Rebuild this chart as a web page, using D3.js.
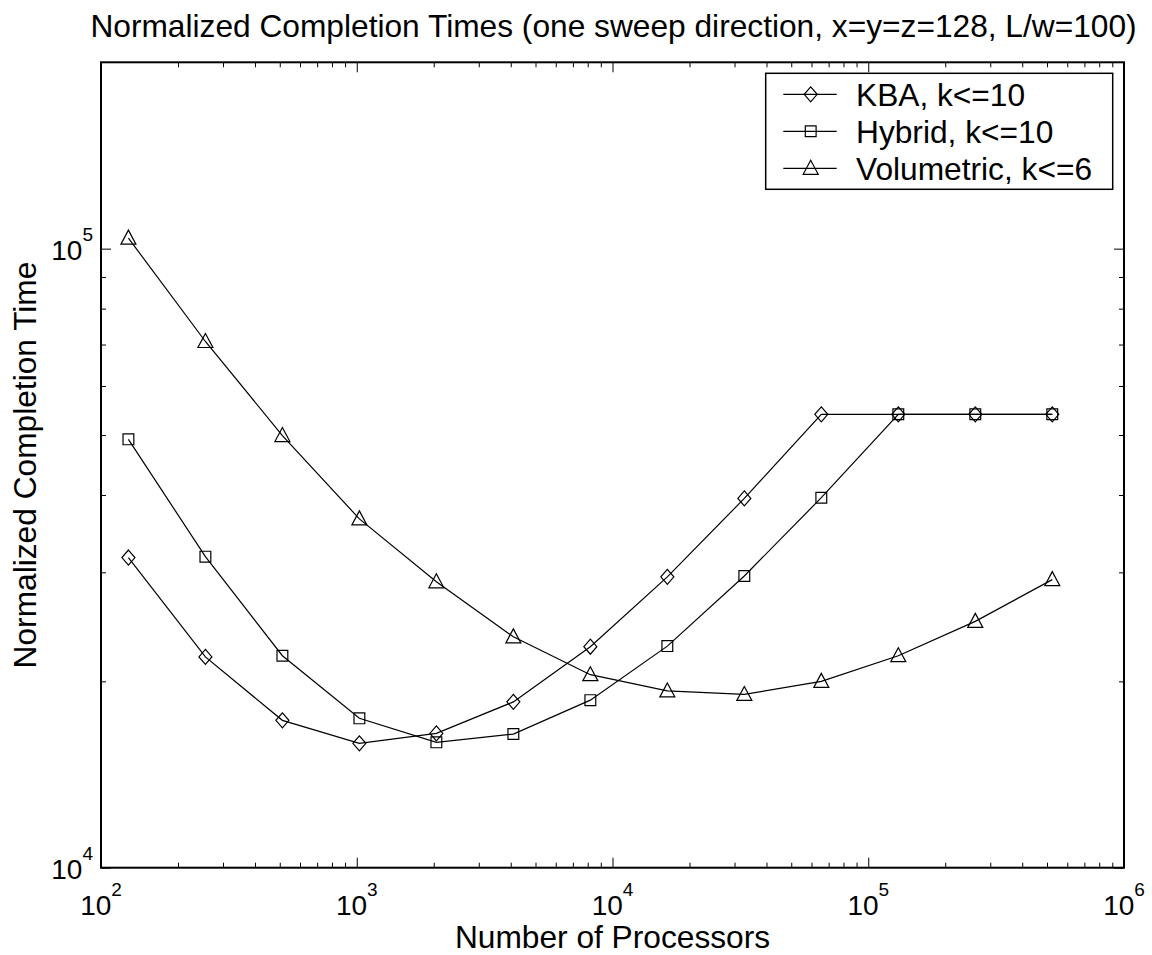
<!DOCTYPE html>
<html>
<head>
<meta charset="utf-8">
<script src="https://cdn.jsdelivr.net/npm/d3@7"></script>
<style>
  body { margin: 0; background: #fff; }
  text { font-family: "Liberation Sans", Arial, Helvetica, sans-serif; fill: #000; }
</style>
</head>
<body>
<svg id="chart" width="1152" height="955"></svg>
<script>
const processors = [128, 256, 512, 1024, 2048, 4096, 8192, 16384, 32768, 65536, 131072, 262144, 524288];
const kba = [31700, 21900, 17300, 15880, 16480, 18530, 22750, 29500, 39500, 54000, 54000, 54000, 54000];
const hybrid = [49200, 31800, 22000, 17430, 15940, 16440, 18650, 22800, 29600, 39600, 54000, 54000, 54000];
const volumetric = [104000, 70800, 49900, 36600, 28960, 23600, 20500, 19300, 19050, 20000, 22000, 25000, 29200];

const seriesNames = ["KBA, k<=10", "Hybrid, k<=10", "Volumetric, k<=6"];
const seriesMarkers = ["diamond", "square", "triangle"];
const xTickExps = [2, 3, 4, 5, 6];
const yTickExps = [4, 5];

const width = 1152;
const height = 955;
const plotLeft = 101, plotRight = 1124, plotTop = 62.3, plotBottom = 867.7;

const svg = d3.select("#chart");
svg.append("rect").attr("width", width).attr("height", height).attr("fill", "#fff");

const xScale = d3.scaleLog().domain([100, 1e6]).range([plotLeft, plotRight]);
const yScale = d3.scaleLog().domain([1e4, 2e5]).range([plotBottom, plotTop]);

// minor ticks 2..9 in each decade
const xMinor = [];
for (let e = 2; e < 6; e++) for (let m = 2; m <= 9; m++) xMinor.push(m * Math.pow(10, e));
const yMinor = [];
for (let e = 4; e < 6; e++) for (let m = 2; m <= 9; m++) {
  const v = m * Math.pow(10, e);
  if (v < 2e5) yMinor.push(v);
}
const xMajor = xTickExps.map(e => Math.pow(10, e));
const yMajor = yTickExps.map(e => Math.pow(10, e));

function addAxis(axis, transform) {
  const g = svg.append("g").attr("transform", transform).call(axis);
  g.select(".domain").remove();
  g.selectAll("line").attr("stroke", "#000").attr("stroke-width", 1);
}

addAxis(d3.axisBottom(xScale).tickValues(xMinor).tickSize(-5).tickFormat(""), `translate(0,${plotBottom})`);
addAxis(d3.axisBottom(xScale).tickValues(xMajor).tickSize(-10).tickFormat(""), `translate(0,${plotBottom})`);
addAxis(d3.axisTop(xScale).tickValues(xMinor).tickSize(-5).tickFormat(""), `translate(0,${plotTop})`);
addAxis(d3.axisTop(xScale).tickValues(xMajor).tickSize(-10).tickFormat(""), `translate(0,${plotTop})`);
addAxis(d3.axisLeft(yScale).tickValues(yMinor).tickSize(-5).tickFormat(""), `translate(${plotLeft},0)`);
addAxis(d3.axisLeft(yScale).tickValues(yMajor).tickSize(-10).tickFormat(""), `translate(${plotLeft},0)`);
addAxis(d3.axisRight(yScale).tickValues(yMinor).tickSize(-5).tickFormat(""), `translate(${plotRight},0)`);
addAxis(d3.axisRight(yScale).tickValues(yMajor).tickSize(-10).tickFormat(""), `translate(${plotRight},0)`);

// frame
svg.append("rect")
  .attr("x", plotLeft).attr("y", plotTop)
  .attr("width", plotRight - plotLeft).attr("height", plotBottom - plotTop)
  .attr("fill", "none").attr("stroke", "#000").attr("stroke-width", 2);

// tick labels with superscript exponents
const xl = svg.append("g");
xTickExps.forEach(e => {
  const t = xl.append("text")
    .attr("x", xScale(Math.pow(10, e)))
    .attr("y", plotBottom + 47)
    .attr("text-anchor", "middle")
    .attr("font-size", 28);
  t.append("tspan").text("10");
  t.append("tspan").attr("font-size", 19).attr("dy", -19).text(e);
});
const yl = svg.append("g");
yTickExps.forEach(e => {
  const t = yl.append("text")
    .attr("x", plotLeft - 8)
    .attr("y", yScale(Math.pow(10, e)) + 11.7)
    .attr("text-anchor", "end")
    .attr("font-size", 28);
  t.append("tspan").text("10");
  t.append("tspan").attr("font-size", 19).attr("dy", -19.7).text(e);
});

// titles
svg.append("text")
  .attr("x", (plotLeft + plotRight) / 2 + 1)
  .attr("y", 37)
  .attr("text-anchor", "middle")
  .attr("font-size", 31.7)
  .text("Normalized Completion Times (one sweep direction, x=y=z=128, L/w=100)");

svg.append("text")
  .attr("x", (plotLeft + plotRight) / 2)
  .attr("y", 948)
  .attr("text-anchor", "middle")
  .attr("font-size", 31.7)
  .text("Number of Processors");

svg.append("text")
  .attr("transform", `translate(36,${(plotTop + plotBottom) / 2}) rotate(-90)`)
  .attr("text-anchor", "middle")
  .attr("font-size", 31.7)
  .text("Normalized Completion Time");

// marker shapes
function markerPath(kind) {
  if (kind === "diamond") return "M0,-7.5L6.5,0L0,7.5L-6.5,0Z";
  if (kind === "square") return "M-5.4,-5.4H5.4V5.4H-5.4Z";
  return "M0,-8L7.5,6H-7.5Z";
}

const series = [
  { name: seriesNames[0], marker: seriesMarkers[0], values: kba },
  { name: seriesNames[1], marker: seriesMarkers[1], values: hybrid },
  { name: seriesNames[2], marker: seriesMarkers[2], values: volumetric }
];

const line = d3.line()
  .x((d, i) => xScale(processors[i]))
  .y(d => yScale(d));

series.forEach(s => {
  svg.append("path")
    .datum(s.values)
    .attr("d", line)
    .attr("fill", "none")
    .attr("stroke", "#000")
    .attr("stroke-width", 1.2);

  svg.append("g").selectAll("path")
    .data(s.values)
    .enter().append("path")
    .attr("d", markerPath(s.marker))
    .attr("transform", (d, i) => `translate(${xScale(processors[i])},${yScale(d)})`)
    .attr("fill", "none")
    .attr("stroke", "#000")
    .attr("stroke-width", 1.2);
});

// legend
const legend = svg.append("g");
legend.append("rect")
  .attr("x", 765.7).attr("y", 73.3)
  .attr("width", 347).attr("height", 116)
  .attr("fill", "#fff").attr("stroke", "#000").attr("stroke-width", 1.5);

series.forEach((s, i) => {
  const ry = 94.3 + i * 37;
  legend.append("line")
    .attr("x1", 783.3).attr("x2", 836.7)
    .attr("y1", ry).attr("y2", ry)
    .attr("stroke", "#000").attr("stroke-width", 1.2);
  legend.append("path")
    .attr("d", markerPath(s.marker))
    .attr("transform", `translate(810.7,${ry})`)
    .attr("fill", "none").attr("stroke", "#000").attr("stroke-width", 1.2);
  legend.append("text")
    .attr("x", 856)
    .attr("y", ry + 11.3)
    .attr("font-size", 31.7)
    .text(s.name);
});
</script>
</body>
</html>
